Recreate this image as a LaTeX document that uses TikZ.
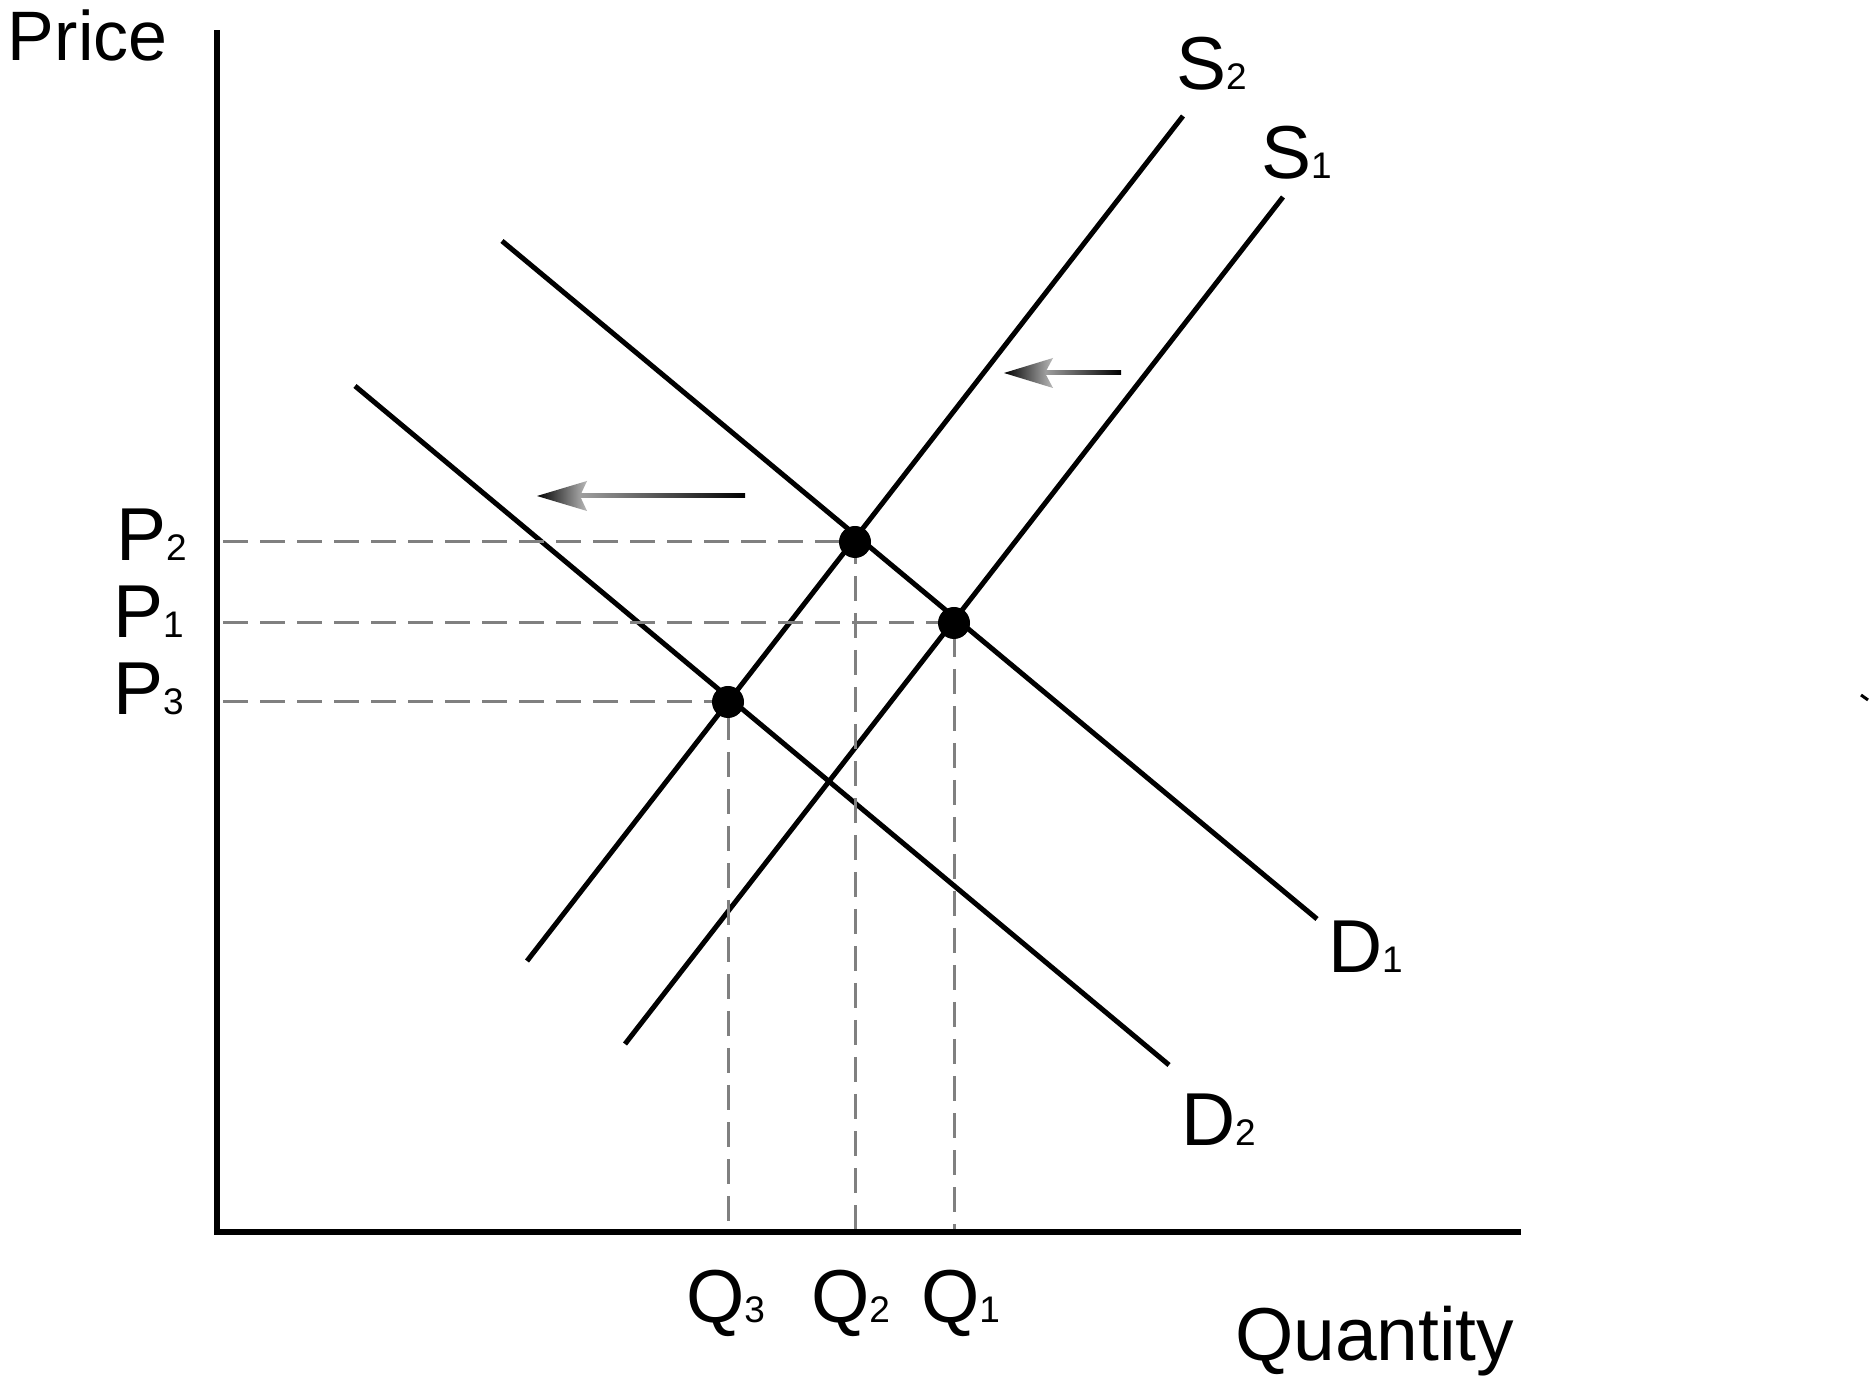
\documentclass[tikz,border=0pt]{standalone}
\usepackage{fontspec}
\setmainfont{Liberation Sans}
\usepackage{xcolor}
\newcommand{\subnum}[1]{{\fontsize{37}{37}\selectfont #1}}

\begin{document}
\begin{tikzpicture}[x=1pt,y=1pt,
  axisline/.style={draw=drawColor,line width=6pt},
  curveline/.style={draw=drawColor,line width=5pt},
  guide/.style={draw=guideColor,line width=3pt,dash pattern=on 25pt off 12pt},
  eqdot/.style={circle,fill=drawColor,inner sep=0pt,minimum size=32pt},
  lbl/.style={text=drawColor,anchor=base west,inner sep=0pt,outer sep=0pt,font=\fontsize{75}{78}\selectfont}]
\definecolor{fillColor}{RGB}{255,255,255}
\definecolor{drawColor}{RGB}{0,0,0}
\definecolor{guideColor}{gray}{0.5}
\path[use as bounding box,fill=fillColor] (0,0) rectangle (1870,1395);

% axes
\coordinate (origin) at (217,163);
\coordinate (ytop) at (217,1362);
\coordinate (xend) at (1518,163);
\path[axisline,line cap=rect] (ytop) -- (origin) -- (xend);

% supply and demand
\coordinate (s2low) at (527,434);
\coordinate (s2high) at (1183,1279);
\coordinate (s1low) at (625,351);
\coordinate (s1high) at (1283,1198);
\coordinate (d1high) at (502,1154);
\coordinate (d1low) at (1317,476);
\coordinate (d2high) at (355,1009);
\coordinate (d2low) at (1169,330);

\path[curveline] (s2low) -- (s2high);
\path[curveline] (s1low) -- (s1high);
\path[curveline] (d1high) -- (d1low);
\path[curveline] (d2high) -- (d2low);

% equilibria
\coordinate (eq2) at (855,853);
\coordinate (eq1) at (954,772);
\coordinate (eq3) at (728,693);
\coordinate (p2) at (223,853);
\coordinate (p1) at (223,772);
\coordinate (p3) at (223,693);
\coordinate (q2) at (855,166);
\coordinate (q1) at (954,166);
\coordinate (q3) at (728,166);

\path[guide] (p2) -- (eq2) -- (q2);
\path[guide] (p1) -- (eq1) -- (q1);
\path[guide] (p3) -- (eq3) -- (q3);

\node[eqdot] (E2) at (eq2) {};
\node[eqdot] (E1) at (eq1) {};
\node[eqdot] (E3) at (eq3) {};

% shift arrows
\coordinate (supplytip) at (1004,1022);
\coordinate (demandtip) at (537,899);
\shade[left color=gray!75,middle color=white,right color=black] (1045,1020) rectangle (1121,1024);
\shade[left color=black,right color=gray!55] (supplytip) -- ++(49,15) -- ++(-8,-15) -- ++(8,-15) -- cycle;
\shade[left color=gray!75,middle color=white,right color=black] (580,897) rectangle (745,901);
\shade[left color=black,right color=gray!55] (demandtip) -- ++(50,15) -- ++(-7,-15) -- ++(7,-15) -- cycle;

\path[draw=drawColor,line width=3pt] (1861,700) -- (1868,695);

% labels
\node[lbl,font=\fontsize{70}{72}\selectfont] (price) at (8,1334) {Price};
\node[lbl] (quantity) at (1235,35) {Quantity};
\node[lbl] (labP2) at (116,834) {P\subnum{2}};
\node[lbl] (labP1) at (113,757) {P\subnum{1}};
\node[lbl] (labP3) at (113,680) {P\subnum{3}};
\node[lbl] (labQ3) at (686,73) {Q\subnum{3}};
\node[lbl] (labQ2) at (811,73) {Q\subnum{2}};
\node[lbl] (labQ1) at (921,73) {Q\subnum{1}};
\node[lbl] (labS2) at (1176,1305) {S\subnum{2}};
\node[lbl] (labS1) at (1261,1216) {S\subnum{1}};
\node[lbl] (labD1) at (1328,422) {D\subnum{1}};
\node[lbl] (labD2) at (1181,250) {D\subnum{2}};
\end{tikzpicture}
\end{document}
